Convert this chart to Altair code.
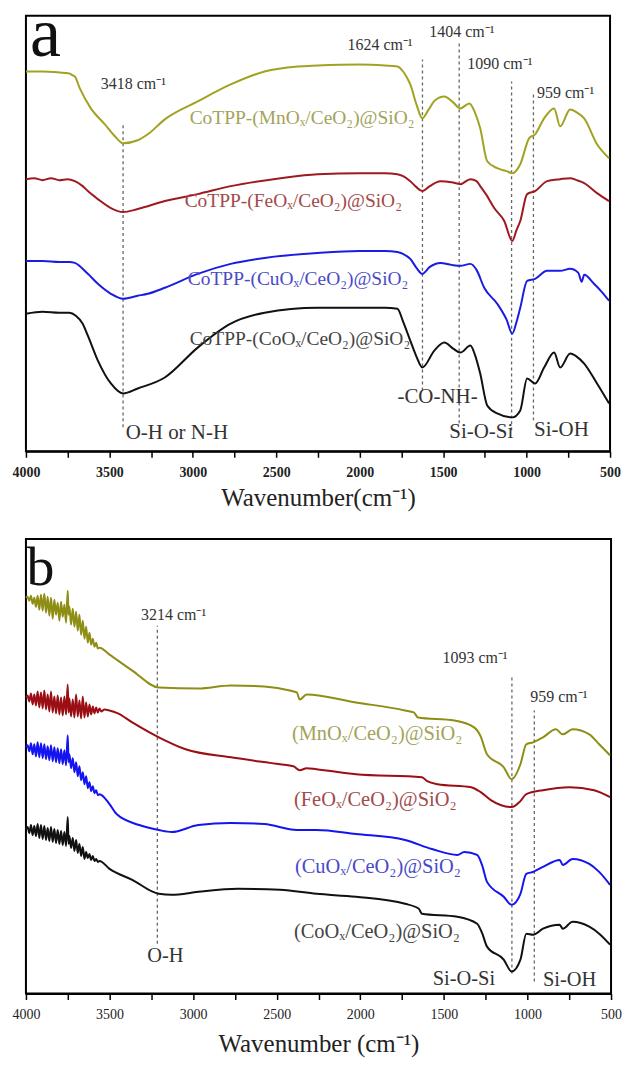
import altair as alt
import pandas as pd

FONT = "Liberation Serif"

# ---------------- Panel a data (wavenumber, offset transmittance a.u.) -------------
A_NAMES = ["MnOx", "FeOx", "CuOx", "CoOx"]
A_COLORS = ["#a2a222", "#9e1a20", "#1c1ce0", "#111111"]

A_MN = [(4000, 381), (3900, 381), (3800, 380), (3740, 379), (3719, 377), (3707, 376), (3677, 364),
        (3611, 344), (3527, 328), (3467, 316), (3418, 309), (3330, 312), (3270, 318), (3168, 333),
        (2971, 351), (2773, 368), (2570, 381), (2373, 386), (2253, 387), (2000, 388), (1850, 387),
        (1774, 386), (1740, 381), (1714, 374), (1697, 368), (1660, 348), (1625, 334), (1590, 342),
        (1550, 352), (1493, 356), (1440, 350), (1397, 344), (1343, 349), (1310, 340), (1278, 324),
        (1236, 291), (1176, 284), (1120, 281), (1086, 279), (1038, 288), (985, 314), (949, 318),
        (895, 334), (835, 344), (799, 326), (739, 343), (700, 340), (655, 334), (578, 308), (506, 294)]

A_FE = [(4000, 273), (3950, 274), (3900, 272), (3850, 274), (3800, 272), (3750, 273), (3707, 271),
        (3660, 266), (3629, 261), (3569, 253), (3491, 244), (3418, 240), (3330, 243), (3168, 251),
        (2971, 258), (2773, 266), (2474, 274), (2253, 278), (2000, 279), (1850, 279), (1774, 278),
        (1740, 276), (1697, 271), (1660, 265), (1625, 261), (1580, 266), (1517, 271), (1450, 270),
        (1397, 268), (1337, 273), (1300, 271), (1278, 266), (1240, 257), (1194, 244), (1134, 231),
        (1086, 211), (1060, 222), (1038, 231), (997, 258), (949, 261), (877, 271), (799, 273),
        (739, 274), (700, 272), (655, 269), (578, 259), (506, 251)]

A_CU = [(4000, 191), (3900, 191), (3800, 190), (3740, 190), (3707, 189), (3629, 178), (3569, 168),
        (3491, 158), (3418, 153), (3330, 156), (3270, 158), (3168, 164), (2971, 178), (2773, 188),
        (2570, 194), (2253, 199), (2000, 201), (1850, 201), (1774, 200), (1740, 198), (1697, 193),
        (1660, 184), (1625, 178), (1580, 185), (1517, 189), (1450, 187), (1397, 186), (1337, 188),
        (1300, 182), (1254, 164), (1176, 148), (1120, 132), (1086, 118), (1060, 130), (1038, 144),
        (997, 171), (949, 173), (877, 181), (799, 181), (739, 183), (690, 179), (670, 170),
        (655, 177), (596, 168), (550, 160), (506, 151)]

A_CO = [(4000, 138), (3900, 140), (3800, 139), (3740, 139), (3701, 136), (3660, 128), (3629, 116),
        (3569, 91), (3491, 68), (3418, 58), (3330, 63), (3168, 74), (2971, 104), (2773, 128),
        (2570, 139), (2253, 144), (2000, 144), (1850, 144), (1774, 143), (1740, 130), (1697, 111),
        (1660, 95), (1625, 84), (1553, 101), (1493, 109), (1440, 103), (1397, 99), (1337, 106),
        (1310, 97), (1278, 78), (1236, 46), (1176, 38), (1086, 34), (1038, 41), (997, 73), (949, 68),
        (895, 84), (835, 99), (799, 84), (739, 98), (700, 95), (655, 88), (578, 68), (506, 48)]

# dashed marker lines: (wavenumber, bottom, top)
A_RULES = [(3418, 24, 329), (1624, 61, 393), (1404, 28, 409), (1090, 21, 371), (959, 31, 361)]

# panel letter: (wavenumber, value, text, size)
A_LETTER = [(3975, 397, "a", 70)]

# texts: (wavenumber, value, text, color, size)
A_TEXTS = [
    (3551, 368, "3418 cm⁻¹", "#333333", 16),
    (2073, 408, "1624 cm⁻¹", "#333333", 16),
    (1583, 421, "1404 cm⁻¹", "#333333", 16),
    (1355, 389, "1090 cm⁻¹", "#333333", 16),
    (937, 359, "959 cm⁻¹", "#333333", 16),
    (3019, 334, "CoTPP-(MnOₓ/CeO₂)@SiO₂", "#a3a35a", 19.5),
    (3049, 251, "CoTPP-(FeOₓ/CeO₂)@SiO₂", "#a24a4a", 19.5),
    (3030, 173, "CoTPP-(CuOₓ/CeO₂)@SiO₂", "#4a4ac8", 19.5),
    (3019, 113, "CoTPP-(CoOₓ/CeO₂)@SiO₂", "#444444", 19.5),
    (3402, 18, "O-H or N-H", "#333333", 21),
    (1774, 54, "-CO-NH-", "#333333", 21),
    (1463, 19, "Si-O-Si", "#333333", 21),
    (955, 21, "Si-OH", "#333333", 21),
]

# ---------------- Panel b data -------------
B_NAMES = ["MnOx", "FeOx", "CuOx", "CoOx"]
B_COLORS = ["#8e8e14", "#9a0e14", "#1414f0", "#111111"]

B_MN = [(4000, 397), (3990, 398), (3980, 394), (3970, 399), (3960, 391), (3950, 397), (3940, 388),
        (3930, 399), (3920, 385), (3910, 400), (3900, 384), (3890, 401), (3880, 382), (3870, 398),
        (3860, 379), (3850, 397), (3840, 376), (3830, 395), (3820, 380), (3810, 392), (3800, 374),
        (3790, 393), (3780, 378), (3770, 390), (3760, 372), (3750, 404), (3745, 380), (3740, 388),
        (3730, 370), (3720, 386), (3710, 368), (3700, 383), (3690, 364), (3680, 380), (3670, 360),
        (3660, 374), (3650, 356), (3640, 368), (3630, 352), (3620, 362), (3610, 350), (3600, 356),
        (3590, 348), (3580, 352), (3570, 346), (3560, 347), (3500, 340), (3364, 324), (3205, 307),
        (2969, 306), (2774, 309), (2574, 308), (2421, 304), (2380, 302), (2362, 295), (2321, 300),
        (2026, 292), (1732, 284), (1680, 282), (1655, 277), (1437, 274), (1319, 267), (1280, 258),
        (1242, 240), (1142, 227), (1095, 215), (1042, 230), (1007, 250), (966, 252), (907, 257),
        (830, 265), (789, 260), (730, 265), (630, 260), (571, 250), (506, 239)]

B_FE = [(4000, 297), (3990, 299), (3980, 293), (3970, 301), (3960, 290), (3950, 300), (3940, 289),
        (3930, 303), (3920, 287), (3910, 302), (3900, 286), (3890, 304), (3880, 285), (3870, 300),
        (3860, 283), (3850, 303), (3840, 282), (3830, 298), (3820, 281), (3810, 299), (3800, 280),
        (3790, 297), (3780, 279), (3770, 298), (3760, 280), (3750, 310), (3745, 282), (3740, 296),
        (3730, 278), (3720, 295), (3710, 277), (3700, 300), (3690, 278), (3680, 294), (3670, 276),
        (3660, 298), (3650, 277), (3640, 292), (3630, 278), (3620, 290), (3610, 280), (3600, 288),
        (3590, 281), (3580, 287), (3570, 282), (3560, 286), (3550, 283), (3530, 285), (3500, 284),
        (3450, 281), (3364, 272), (3205, 257), (3045, 245), (2774, 237), (2480, 230), (2400, 228),
        (2362, 224), (2321, 226), (2262, 225), (2026, 220), (1631, 217), (1600, 213), (1537, 210),
        (1337, 207), (1280, 202), (1219, 194), (1095, 187), (1042, 193), (1007, 200), (907, 204),
        (748, 207), (601, 204), (506, 197)]

B_CU = [(4000, 247), (3990, 249), (3980, 243), (3970, 251), (3960, 240), (3950, 250), (3940, 238),
        (3930, 252), (3920, 237), (3910, 251), (3900, 236), (3890, 250), (3880, 235), (3870, 248),
        (3860, 234), (3850, 249), (3840, 233), (3830, 247), (3820, 232), (3810, 246), (3800, 231),
        (3790, 245), (3780, 230), (3770, 244), (3760, 229), (3750, 259), (3745, 232), (3740, 240),
        (3730, 226), (3720, 236), (3710, 222), (3700, 232), (3690, 218), (3680, 228), (3670, 214),
        (3660, 222), (3650, 210), (3640, 218), (3630, 206), (3620, 212), (3610, 203), (3600, 208),
        (3590, 201), (3580, 204), (3570, 199), (3560, 200), (3500, 190), (3458, 180), (3322, 169),
        (3205, 164), (3128, 162), (2969, 169), (2774, 171), (2574, 170), (2380, 164), (2262, 164),
        (2026, 160), (1732, 154), (1572, 145), (1419, 139), (1378, 142), (1301, 139), (1270, 128),
        (1242, 112), (1142, 97), (1095, 89), (1042, 100), (1007, 120), (966, 122), (907, 127),
        (807, 134), (789, 129), (730, 135), (630, 130), (571, 122), (506, 109)]

B_CO = [(4000, 165), (3990, 167), (3980, 161), (3970, 169), (3960, 159), (3950, 168), (3940, 158),
        (3930, 170), (3920, 156), (3910, 169), (3900, 155), (3890, 168), (3880, 154), (3870, 166),
        (3860, 153), (3850, 167), (3840, 152), (3830, 165), (3820, 151), (3810, 164), (3800, 150),
        (3790, 163), (3780, 149), (3770, 162), (3760, 148), (3750, 177), (3745, 150), (3740, 158),
        (3730, 146), (3720, 156), (3710, 143), (3700, 154), (3690, 141), (3680, 150), (3670, 138),
        (3660, 147), (3650, 135), (3640, 142), (3630, 136), (3620, 140), (3610, 134), (3600, 138),
        (3590, 133), (3580, 135), (3570, 132), (3560, 133), (3500, 125), (3364, 114), (3205, 100),
        (3128, 99), (2969, 102), (2733, 105), (2480, 104), (2262, 100), (2026, 97), (1732, 90),
        (1650, 85), (1631, 80), (1419, 77), (1301, 70), (1270, 60), (1242, 47), (1142, 34),
        (1095, 22), (1042, 34), (1007, 60), (966, 59), (907, 65), (807, 69), (789, 65), (730, 72),
        (630, 67), (571, 60), (506, 49)]

B_RULES = [(3214, 50, 369), (1093, 20, 317), (959, 12, 284)]

B_LETTER = [(3996, 410, "b", 56)]

B_TEXTS = [
    (3311, 380, "3214 cm⁻¹", "#333333", 16),
    (1508, 337, "1093 cm⁻¹", "#333333", 16),
    (983, 297, "959 cm⁻¹", "#333333", 16),
    (2409, 260, "(MnOₓ/CeO₂)@SiO₂", "#a3a35a", 20.5),
    (2397, 194, "(FeOₓ/CeO₂)@SiO₂", "#a24a4a", 20.5),
    (2391, 127, "(CuOₓ/CeO₂)@SiO₂", "#4a4ac8", 20.5),
    (2397, 62, "(CoOₓ/CeO₂)@SiO₂", "#444444", 20.5),
    (3275, 38, "O-H", "#333333", 20.5),
    (1567, 15, "Si-O-Si", "#333333", 20.5),
    (907, 14, "Si-OH", "#333333", 20.5),
]

TICKS = list(range(500, 4001, 250))


def panel(series, colors, rules, letter, texts, width, height, title, bold, title_pad):
    xaxis = alt.Axis(
        values=TICKS, format="d",
        labelExpr="datum.value % 500 === 0 ? datum.label : ''",
        title=title, grid=False, labelFlush=False, labelOverlap=False,
        domainColor="black", domainWidth=2, tickColor="black", tickWidth=1.5, tickSize=6,
        labelFont=FONT, labelFontSize=14, labelFontWeight="bold" if bold else "normal",
        labelColor="#222222", labelPadding=8,
        titleFont=FONT, titleFontSize=25, titleFontWeight="normal", titleColor="#222222",
        titlePadding=title_pad,
    )
    xs = alt.Scale(domain=[500, 4000], reverse=True, nice=False, zero=False)
    ys = alt.Scale(domain=[0, height], nice=False, zero=False)
    X = alt.X("wn:Q", scale=xs, axis=xaxis)
    Y = alt.Y("t:Q", scale=ys, axis=None)

    layers = []
    rdf = pd.DataFrame(rules, columns=["wn", "y1", "y2"])
    layers.append(alt.Chart(rdf).mark_rule(strokeDash=[3, 3], color="#666666", strokeWidth=1.3).encode(
        x=X, y=alt.Y("y1:Q", scale=ys, axis=None), y2="y2:Q"
    ))
    for col, pts in zip(colors, series):
        df = pd.DataFrame(pts, columns=["wn", "t"])
        layers.append(alt.Chart(df).mark_line(strokeWidth=2, interpolate="monotone", color=col).encode(
            x=X, y=Y
        ))
    ldf = pd.DataFrame(letter, columns=["wn", "t", "txt", "fs"])
    layers.append(alt.Chart(ldf).mark_text(font=FONT, align="left", baseline="alphabetic",
                                           color="#111111", clip=True).encode(
        x=X, y=Y, text="txt:N", size=alt.Size("fs:Q", scale=None)
    ))
    tdf = pd.DataFrame(texts, columns=["wn", "t", "txt", "col", "fs"])
    for col in tdf["col"].unique():
        sub = tdf[tdf["col"] == col]
        layers.append(alt.Chart(sub).mark_text(font=FONT, align="left", baseline="middle",
                                               color=col, clip=True).encode(
            x=X, y=Y, text="txt:N", size=alt.Size("fs:Q", scale=None)
        ))
    return alt.layer(*layers).properties(width=width, height=height)


pa = panel([A_MN, A_FE, A_CU, A_CO], A_COLORS, A_RULES, A_LETTER, A_TEXTS,
           586, 437, "Wavenumber(cm⁻¹)", True, 6)
pb = panel([B_MN, B_FE, B_CU, B_CO], B_COLORS, B_RULES, B_LETTER, B_TEXTS,
           587, 456, "Wavenumber (cm⁻¹)", False, 10)

chart = alt.vconcat(pa, pb, spacing=27).configure_view(
    stroke="black", strokeWidth=2
).properties(
    padding={"left": 3, "top": 5, "right": 0, "bottom": 0}, background="white"
)

chart.save("out.html", embed_options={"renderer": "svg", "actions": False})
